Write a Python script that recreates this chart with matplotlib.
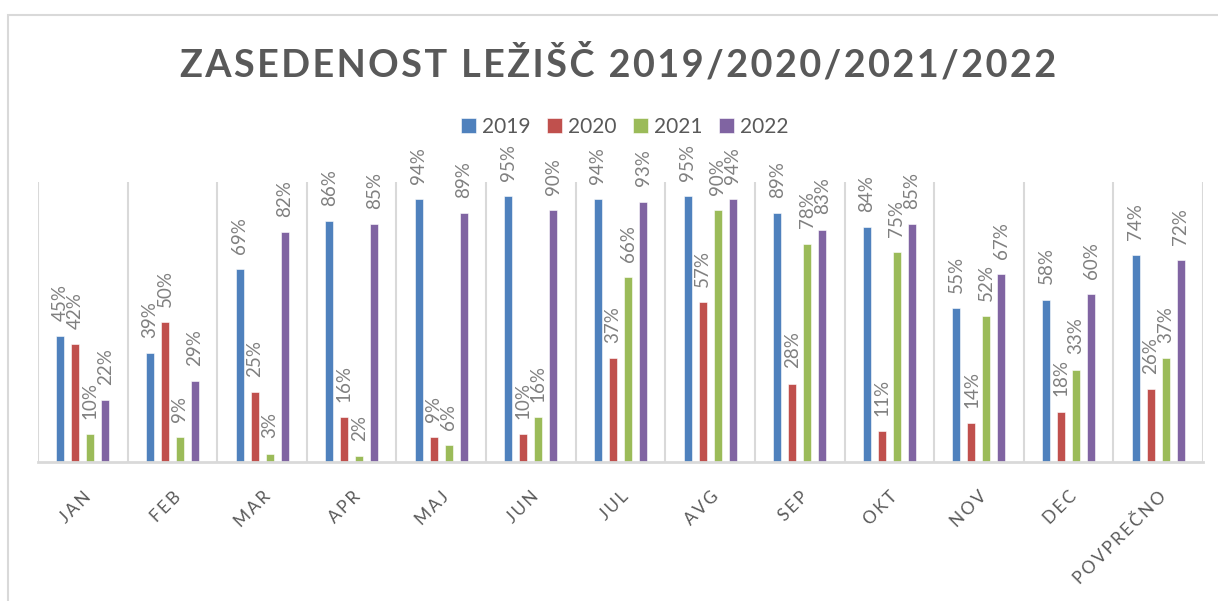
import matplotlib
matplotlib.use("Agg")
import matplotlib.pyplot as plt
import numpy as np
from matplotlib.patches import Rectangle

plt.rcParams['font.family'] = ['Lato', 'DejaVu Sans']

months = ['JAN', 'FEB', 'MAR', 'APR', 'MAJ', 'JUN', 'JUL', 'AVG', 'SEP', 'OKT', 'NOV', 'DEC', 'POVPREČNO']
years = ['2019', '2020', '2021', '2022']
val_2019 = [45, 39, 69, 86, 94, 95, 94, 95, 89, 84, 55, 58, 74]
val_2020 = [42, 50, 25, 16, 9, 10, 37, 57, 28, 11, 14, 18, 26]
val_2021 = [10, 9, 3, 2, 6, 16, 66, 90, 78, 75, 52, 33, 37]
val_2022 = [22, 29, 82, 85, 89, 90, 93, 94, 83, 85, 67, 60, 72]
colors = ['#4F81BD', '#C0504D', '#9BBB59', '#8064A2']
title = 'ZASEDENOST LEŽIŠČ 2019/2020/2021/2022'

W, H = 1218, 601
fig = plt.figure(figsize=(W / 100, H / 100), dpi=100)

# outer chart frame (cut by the screenshot on right and bottom)
fig.patches.append(Rectangle((8 / W, -0.1), 1.2, 1 - 15 / H + 0.1, transform=fig.transFigure,
                             fill=False, edgecolor='#D9D9D9', lw=1.5))

ax = fig.add_axes([38 / W, 1 - 462 / H, (1203 - 38) / W, (462 - 182) / H])

x = np.arange(len(months))
pitch = 0.1674
width = 0.09
series = [val_2019, val_2020, val_2021, val_2022]
for i, (vals, yr, c) in enumerate(zip(series, years, colors)):
    bars = ax.bar(x + (i - 1.5) * pitch, vals, width, color=c, label=yr,
                  edgecolor='white', linewidth=0.4, zorder=3)
    ax.bar_label(bars, labels=[f'{v}%' for v in vals], padding=11, rotation=90,
                 color='#808080', fontsize=13.5)

ax.set_xlim(-0.5, len(months) - 0.5)
ax.set_ylim(0, 100)
for b in np.arange(-0.5, len(months), 1.0):
    ax.axvline(b, color='#D9D9D9', lw=1.5, zorder=1)
for s in ax.spines.values():
    s.set_visible(False)
ax.axhline(0, color='#D9D9D9', lw=2, zorder=4, clip_on=False)
ax.set_yticks([])
ax.set_xticks(x)
ax.set_xticklabels(['\u2009'.join(m) for m in months], rotation=45, ha='right',
                   rotation_mode='anchor', color='#595959', fontsize=12.5)
ax.tick_params(axis='x', length=0, pad=19)

fig.text(618 / W, 1 - 63 / H, '\u200a'.join(title), ha='center', va='center',
         fontsize=27.3, fontweight='bold', color='#595959')

fig.legend(loc='center', bbox_to_anchor=(625 / W, 1 - 127 / H), ncol=4, frameon=False,
           fontsize=15, handlelength=0.7, handleheight=0.7, handletextpad=0.3,
           columnspacing=0.8, labelcolor='#595959')

fig.savefig('out.png', dpi=100)
